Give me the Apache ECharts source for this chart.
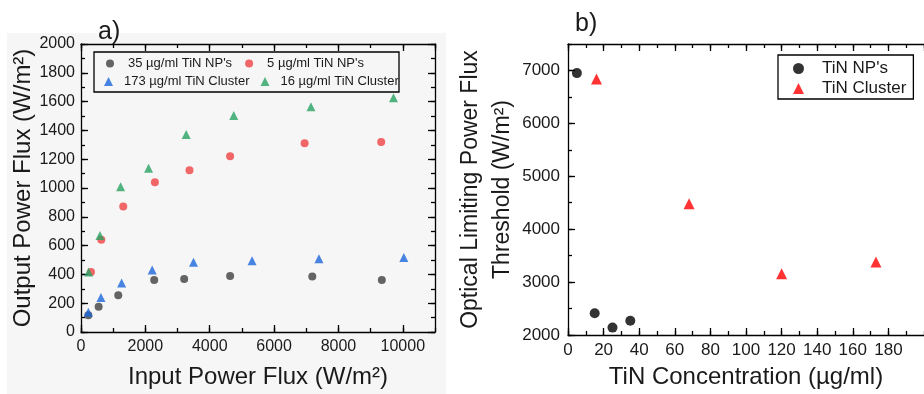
<!DOCTYPE html>
<html>
<head>
<meta charset="utf-8">
<script src="https://cdn.jsdelivr.net/npm/echarts@6/dist/echarts.min.js"></script>
<style>
  html, body { margin: 0; padding: 0; background: #fff; }
  #main { width: 924px; height: 394px; }
</style>
</head>
<body>
<div id="main"></div>
<script>
// a) output vs input power flux
const np35X = [228, 548, 1158, 2275, 3206, 4633, 7187, 9348];
const np35Y = [117, 175, 256, 361, 368, 389, 385, 361];
const np5X = [310, 631, 1313, 2296, 3371, 4633, 6949, 9328];
const np5Y = [417, 641, 872, 1040, 1124, 1221, 1310, 1319];
const cl173X = [228, 620, 1262, 2213, 3495, 5315, 7394, 10031];
const cl173Y = [138, 240, 340, 431, 485, 494, 508, 517];
const cl16X = [238, 589, 1231, 2099, 3268, 4747, 7146, 9710];
const cl16Y = [417, 671, 1009, 1138, 1371, 1503, 1564, 1627];

// b) threshold vs concentration
const npConc = [5, 15, 25, 35];
const npThreshold = [6950, 2410, 2140, 2270];
const clConc = [16, 68, 120, 173];
const clThreshold = [6840, 4480, 3160, 3380];

const zip = (xs, ys) => xs.map((x, i) => [x, ys[i]]);
const font = 'Liberation Sans';
const ink = '#1a1a1a';

// one axis per tick size, so major and minor ticks get their own length
function axis(gridIndex, position, min, max, interval, len, opts) {
  opts = opts || {};
  return Object.assign({
    type: 'value', gridIndex, position, min, max, interval,
    axisLine: { show: !!opts.line, onZero: false, lineStyle: { color: '#000', width: 1.3 } },
    axisTick: { show: true, inside: true, length: len, lineStyle: { color: '#000', width: 1.3 } },
    axisLabel: { show: false },
    splitLine: { show: false }
  }, opts.extra || {});
}
const label = (size, margin, showMax) => ({
  show: true, margin, color: ink, fontFamily: font, fontSize: size,
  showMaxLabel: !!showMax, formatter: v => String(v)
});

const chart = echarts.init(document.getElementById('main'));
chart.setOption({
  animation: false,
  grid: [
    { left: 81, top: 44, width: 354, height: 288 },
    { left: 568, top: 44, width: 381, height: 292 }
  ],
  xAxis: [
    axis(0, 'bottom', 0, 11000, 2000, 7, { line: true, extra: {
      axisLabel: label(16, 7),
      name: 'Input Power Flux (W/m²)', nameLocation: 'middle', nameGap: 33,
      nameTextStyle: { fontFamily: font, fontSize: 24, color: ink } } }),
    axis(0, 'bottom', 0, 11000, 1000, 4),
    axis(0, 'top', 0, 11000, 2000, 7, { line: true }),
    axis(0, 'top', 0, 11000, 1000, 4),
    axis(1, 'bottom', 0, 200, 20, 7, { line: true, extra: {
      axisLabel: label(17, 7),
      name: 'TiN Concentration (µg/ml)', nameLocation: 'middle', nameGap: 30,
      nameTextStyle: { fontFamily: font, fontSize: 24, color: ink } } }),
    axis(1, 'bottom', 0, 200, 10, 4),
    axis(1, 'top', 0, 200, 20, 7, { line: true }),
    axis(1, 'top', 0, 200, 10, 4)
  ],
  yAxis: [
    axis(0, 'left', 0, 2000, 200, 7, { line: true, extra: {
      axisLabel: label(16, 6, true),
      name: 'Output Power Flux (W/m²)', nameLocation: 'middle', nameGap: 28,
      nameTextStyle: { fontFamily: font, fontSize: 24, color: ink } } }),
    axis(0, 'left', 0, 2000, 100, 4),
    axis(0, 'right', 0, 2000, 200, 7, { line: true }),
    axis(0, 'right', 0, 2000, 100, 4),
    axis(1, 'left', 2000, 7500, 1000, 7, { line: true, extra: {
      axisLabel: label(17, 8),
      name: 'Optical Limiting Power Flux\nThreshold (W/m²)', nameLocation: 'middle', nameGap: 45,
      nameTextStyle: { fontFamily: font, fontSize: 23, color: ink, lineHeight: 32 } } }),
    axis(1, 'left', 2000, 7500, 500, 4)
  ],
  legend: [
    { data: ["35 µg/ml TiN NP's", "5 µg/ml TiN NP's"], left: 106, top: 57, padding: 0,
      itemGap: 13, itemWidth: 8, itemHeight: 8,
      textStyle: { fontFamily: font, fontSize: 13, color: ink, padding: [0, 0, 0, 9] } },
    { data: ['173 µg/ml TiN Cluster', '16 µg/ml TiN Cluster'], left: 104, top: 75, padding: 0,
      itemGap: 11, itemWidth: 9, itemHeight: 9,
      textStyle: { fontFamily: font, fontSize: 13, color: ink, padding: [0, 0, 0, 6] } },
    { data: ["TiN NP's", 'TiN Cluster'], orient: 'vertical', left: 778, top: 55,
      padding: [5, 7, 2, 15], itemGap: 3, itemWidth: 11, itemHeight: 11,
      borderColor: '#000', borderWidth: 1.3,
      textStyle: { fontFamily: font, fontSize: 17, color: ink, padding: [0, 0, 0, 13] } }
  ],
  graphic: [
    { type: 'rect', z: -10, silent: true, shape: { x: 7, y: 33, width: 439, height: 361 },
      style: { fill: '#f6f6f6' } },
    { type: 'rect', z: 10, silent: true, shape: { x: 94, y: 52, width: 305, height: 40 },
      style: { fill: 'none', stroke: '#000', lineWidth: 1.3 } },
    { type: 'text', left: 98, top: 20, style: { text: 'a)', fontFamily: font, fontSize: 25, fill: ink } },
    { type: 'text', left: 575, top: 12, style: { text: 'b)', fontFamily: font, fontSize: 25, fill: ink } }
  ],
  series: [
    { name: "35 µg/ml TiN NP's", type: 'scatter', xAxisIndex: 0, yAxisIndex: 0,
      symbol: 'circle', symbolSize: 8, itemStyle: { color: '#404040' }, data: zip(np35X, np35Y) },
    { name: "5 µg/ml TiN NP's", type: 'scatter', xAxisIndex: 0, yAxisIndex: 0,
      symbol: 'circle', symbolSize: 8, itemStyle: { color: '#f04343' }, data: zip(np5X, np5Y) },
    { name: '173 µg/ml TiN Cluster', type: 'scatter', xAxisIndex: 0, yAxisIndex: 0,
      symbol: 'triangle', symbolSize: 9, itemStyle: { color: '#1b66dc' }, data: zip(cl173X, cl173Y) },
    { name: '16 µg/ml TiN Cluster', type: 'scatter', xAxisIndex: 0, yAxisIndex: 0,
      symbol: 'triangle', symbolSize: 9, itemStyle: { color: '#28a262' }, data: zip(cl16X, cl16Y) },
    { name: "TiN NP's", type: 'scatter', xAxisIndex: 4, yAxisIndex: 4,
      symbol: 'circle', symbolSize: 10, itemStyle: { color: '#000' }, data: zip(npConc, npThreshold) },
    { name: 'TiN Cluster', type: 'scatter', xAxisIndex: 4, yAxisIndex: 4,
      symbol: 'triangle', symbolSize: 11, itemStyle: { color: '#f00' }, data: zip(clConc, clThreshold) }
  ]
});
</script>
</body>
</html>
